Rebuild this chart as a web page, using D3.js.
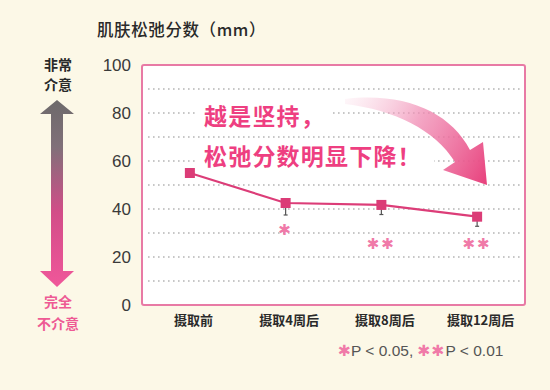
<!DOCTYPE html>
<html><head><meta charset="utf-8">
<script src="https://cdn.jsdelivr.net/npm/d3@7"></script>
<style>
html,body{margin:0;padding:0;background:#fcf8e7;}
svg{display:block;}
</style></head>
<body>
<script>
const categories = ["摄取前", "摄取4周后", "摄取8周后", "摄取12周后"];
const values = [55, 42.5, 41.7, 36.8];
const errLower = [0, 5, 4, 4];
const sigMarks = ["", "✱", "✱✱", "✱✱"];
const sigAt = [null, 31.5, 25.5, 25.5];
const yTicks = [0, 20, 40, 60, 80, 100];
const gridTicks = [10, 20, 30, 40, 50, 60, 70, 80, 90];

const W = 550, H = 390;
const svg = d3.select("body").append("svg").attr("width", W).attr("height", H);
const defs = svg.append("defs");

const x = d3.scalePoint().domain(categories).range([142, 525]).padding(0.5);
const y = d3.scaleLinear().domain([0, 100]).range([305, 65]);

svg.append("rect").attr("width", W).attr("height", H).attr("fill", "#fcf8e7");

// plot box
svg.append("rect").attr("x", 142).attr("y", 65).attr("width", 383).attr("height", 240)
  .attr("fill", "#ffffff").attr("stroke", "#e87aa5").attr("stroke-width", 2).attr("rx", 2);

// grid
svg.append("g").selectAll("line").data(gridTicks).join("line")
  .attr("x1", 148).attr("x2", 520)
  .attr("y1", d => y(d)).attr("y2", d => y(d))
  .attr("stroke", "#b5b5b5").attr("stroke-width", 1.6)
  .attr("stroke-dasharray", "1.6,3.4");

// y tick labels
const yAxis = d3.axisLeft(y).tickValues(yTicks).tickSize(0).tickPadding(0);
const ga = svg.append("g").attr("transform", "translate(131,0)").call(yAxis);
ga.select(".domain").remove();
ga.selectAll("text").attr("font-family", "Liberation Sans, Arial, sans-serif")
  .attr("font-size", 17).attr("fill", "#3a3a3a").attr("dy", "0.35em");

// x labels
const xAxis = d3.axisBottom(x).tickSize(0).tickPadding(0);
const gx = svg.append("g").attr("transform", "translate(3,316)").call(xAxis);
gx.select(".domain").remove();
gx.selectAll("text").attr("font-family", "Noto Sans CJK SC, sans-serif")
  .attr("font-size", 13).attr("font-weight", 700).attr("fill", "#2a2a2a");

// curved arrow gradient
const ag = defs.append("linearGradient").attr("id", "ag")
  .attr("gradientUnits", "userSpaceOnUse").attr("x1", 345).attr("y1", 100).attr("x2", 487).attr("y2", 180);
ag.append("stop").attr("offset", 0).attr("stop-color", "#f7c3d7").attr("stop-opacity", 0.15);
ag.append("stop").attr("offset", 0.45).attr("stop-color", "#f08ab2").attr("stop-opacity", 0.75);
ag.append("stop").attr("offset", 1).attr("stop-color", "#e8437e");

// annotation text with white bg
const ann = svg.append("g").attr("font-family", "Noto Sans CJK SC, sans-serif")
  .attr("font-size", 23).attr("font-weight", 700).attr("fill", "#ee3f81")
  .attr("letter-spacing", 1.2);
ann.append("rect").attr("x", 198).attr("y", 100).attr("width", 135).attr("height", 32).attr("fill", "#fff");
ann.append("rect").attr("x", 198).attr("y", 141).attr("width", 236).attr("height", 32).attr("fill", "#fff");

svg.append("path")
  .attr("d", "M 345 99 C 405 92, 450 112, 470 150 L 483 142 L 487 185 L 443 170 L 455 162 C 435 130, 395 110, 345 104 Z")
  .attr("fill", "url(#ag)");

ann.append("text").attr("x", 204).attr("y", 125).text("越是坚持，");
ann.append("text").attr("x", 204).attr("y", 165).text("松弛分数明显下降！");

// series
const pts = categories.map((c, i) => ({c, v: values[i], e: errLower[i], s: sigMarks[i], a: sigAt[i]}));

svg.append("g").selectAll("line").data(pts.filter(d => d.e > 0)).join("line")
  .attr("x1", d => x(d.c)).attr("x2", d => x(d.c))
  .attr("y1", d => y(d.v)).attr("y2", d => y(d.v - d.e))
  .attr("stroke", "#555").attr("stroke-width", 1.2);
svg.append("g").selectAll("line").data(pts.filter(d => d.e > 0)).join("line")
  .attr("x1", d => x(d.c) - 2).attr("x2", d => x(d.c) + 2)
  .attr("y1", d => y(d.v - d.e)).attr("y2", d => y(d.v - d.e))
  .attr("stroke", "#555").attr("stroke-width", 1.2);

svg.append("path").datum(pts)
  .attr("d", d3.line().x(d => x(d.c)).y(d => y(d.v)))
  .attr("fill", "none").attr("stroke", "#dc3d78").attr("stroke-width", 2.2);

svg.append("g").selectAll("rect").data(pts).join("rect")
  .attr("x", d => x(d.c) - 5).attr("y", d => y(d.v) - 5)
  .attr("width", 10).attr("height", 10).attr("fill", "#db3c77");

svg.append("g").selectAll("text").data(pts.filter(d => d.s)).join("text")
  .attr("x", d => x(d.c)).attr("y", d => y(d.a)).attr("dy", "0.35em")
  .attr("text-anchor", "middle").attr("font-family", "DejaVu Sans, sans-serif")
  .attr("font-size", 15).attr("letter-spacing", 2).attr("fill", "#f07aa8").text(d => d.s);

// title
svg.append("text").attr("x", 97).attr("y", 36).attr("font-family", "Noto Sans CJK SC, sans-serif")
  .attr("font-size", 16.5).attr("font-weight", 500).attr("fill", "#2a2a2a").attr("letter-spacing", 0.6)
  .text("肌肤松弛分数（mm）");

// left labels
const lab = svg.append("g").attr("font-family", "Noto Sans CJK SC, serif").attr("font-size", 14)
  .attr("font-weight", 700).attr("text-anchor", "middle");
lab.append("text").attr("x", 58).attr("y", 70).attr("fill", "#2a2a2a").text("非常");
lab.append("text").attr("x", 58).attr("y", 90).attr("fill", "#2a2a2a").text("介意");
lab.append("text").attr("x", 58).attr("y", 307).attr("fill", "#ee5a94").text("完全");
lab.append("text").attr("x", 58).attr("y", 329).attr("fill", "#ee5a94").text("不介意");

// vertical double arrow
const vg = defs.append("linearGradient").attr("id", "vg").attr("x1", 0).attr("y1", 0).attr("x2", 0).attr("y2", 1);
vg.append("stop").attr("offset", 0).attr("stop-color", "#6d6a6b");
vg.append("stop").attr("offset", 0.25).attr("stop-color", "#807079");
vg.append("stop").attr("offset", 0.6).attr("stop-color", "#d24d88");
vg.append("stop").attr("offset", 1).attr("stop-color", "#f0579a");
svg.append("path")
  .attr("d", "M 57 100 L 74 114 L 63 114 L 63 271 L 74 271 L 57 287 L 40 271 L 51 271 L 51 114 L 40 114 Z")
  .attr("fill", "url(#vg)");

// footnote
const fn = svg.append("text").attr("x", 338).attr("y", 356).attr("font-family", "Liberation Sans, Arial, sans-serif")
  .attr("font-size", 15.5).attr("fill", "#555");
fn.append("tspan").attr("fill", "#f07aa8").attr("font-family", "DejaVu Sans, sans-serif").text("✱");
fn.append("tspan").text("P < 0.05, ");
fn.append("tspan").attr("fill", "#f07aa8").attr("font-family", "DejaVu Sans, sans-serif").attr("letter-spacing", 1).text("✱✱");
fn.append("tspan").text("P < 0.01");
</script>
</body></html>
